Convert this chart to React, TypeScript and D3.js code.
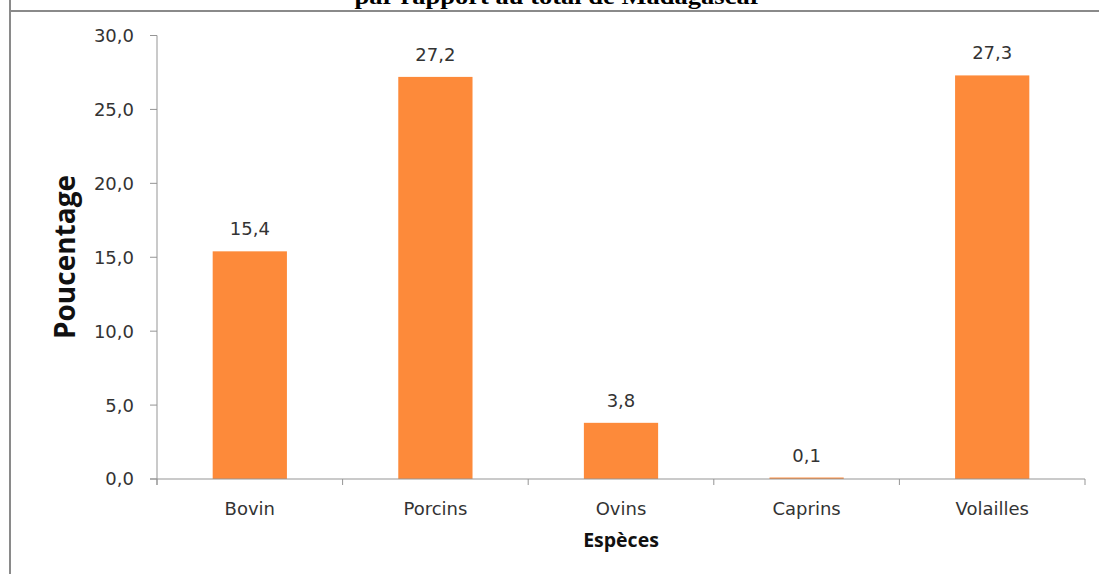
import React from "react";
import * as d3 from "d3";

const categories = ["Bovin", "Porcins", "Ovins", "Caprins", "Volailles"];
const values = [15.4, 27.2, 3.8, 0.1, 27.3];
const yTicks = [0, 5, 10, 15, 20, 25, 30];
const title = "par rapport au total de Madagascar";
const yTitle = "Poucentage";
const xTitle = "Espèces";

const W = 1099;
const H = 574;
const fmt = (v: number) => d3.format(".1f")(v).replace(".", ",");

export default function App() {
  const x = d3
    .scaleBand<string>()
    .domain(categories)
    .range([157, 1085])
    .paddingInner(0.6)
    .paddingOuter(0.3);
  const y = d3.scaleLinear().domain([0, 30]).range([479, 35.5]);
  const step = x.step();
  const x0 = 157;
  const axisColor = "#959595";
  const textColor = "#333";
  const fs = 18;

  return (
    <svg
      width={W}
      height={H}
      style={{ position: "absolute", left: 0, top: 0, background: "#fff" }}
    >
      {/* frame */}
      <line x1={10} y1={0} x2={10} y2={H} stroke="#8a8a8a" strokeWidth={2} />
      <line x1={10} y1={11} x2={W} y2={11} stroke="#8a8a8a" strokeWidth={2} />
      {/* title (cut off at the top, as in the source) */}
      <text
        x={558}
        y={4}
        textAnchor="middle"
        fontFamily="Liberation Serif"
        fontWeight="bold"
        fontSize={24}
        textLength={407}
        lengthAdjust="spacingAndGlyphs"
        fill="#000"
      >
        {title}
      </text>
      {/* y axis */}
      <line x1={x0} y1={y(30)} x2={x0} y2={y(0) + 6} stroke={axisColor} strokeWidth={1} />
      {yTicks.map((t) => (
        <g key={t}>
          <line x1={150} y1={y(t)} x2={x0} y2={y(t)} stroke={axisColor} strokeWidth={1} />
          <text
            x={134}
            y={y(t)}
            dy="0.36em"
            textAnchor="end"
            fontFamily="DejaVu Sans"
            fontSize={fs}
            fill={textColor}
          >
            {fmt(t)}
          </text>
        </g>
      ))}
      {/* bars */}
      {categories.map((c, i) => (
        <g key={c}>
          <rect
            x={x(c)!}
            y={y(values[i])}
            width={x.bandwidth()}
            height={y(0) - y(values[i])}
            fill="#FD8A3A"
          />
          <text
            x={x(c)! + x.bandwidth() / 2}
            y={y(values[i]) - 16}
            textAnchor="middle"
            fontFamily="DejaVu Sans"
            fontSize={fs}
            fill={textColor}
          >
            {fmt(values[i])}
          </text>
          <text
            x={x(c)! + x.bandwidth() / 2}
            y={515}
            textAnchor="middle"
            fontFamily="DejaVu Sans"
            fontSize={fs}
            fill={textColor}
          >
            {c}
          </text>
        </g>
      ))}
      {/* x axis */}
      <line x1={x0 - 7} y1={y(0)} x2={1085} y2={y(0)} stroke={axisColor} strokeWidth={1} />
      {d3.range(categories.length + 1).map((i) => (
        <line
          key={i}
          x1={x0 + i * step}
          y1={y(0)}
          x2={x0 + i * step}
          y2={y(0) + 6}
          stroke={axisColor}
          strokeWidth={1}
        />
      ))}
      {/* axis titles */}
      <text
        x={621}
        y={547}
        textAnchor="middle"
        fontFamily="Open Sans"
        fontWeight="bold"
        fontSize={19.5}
        fill="#111"
      >
        {xTitle}
      </text>
      <text
        transform={`translate(75,257) rotate(-90)`}
        textAnchor="middle"
        fontFamily="Open Sans"
        fontWeight="bold"
        fontSize={28}
        fill="#111"
      >
        {yTitle}
      </text>
    </svg>
  );
}
